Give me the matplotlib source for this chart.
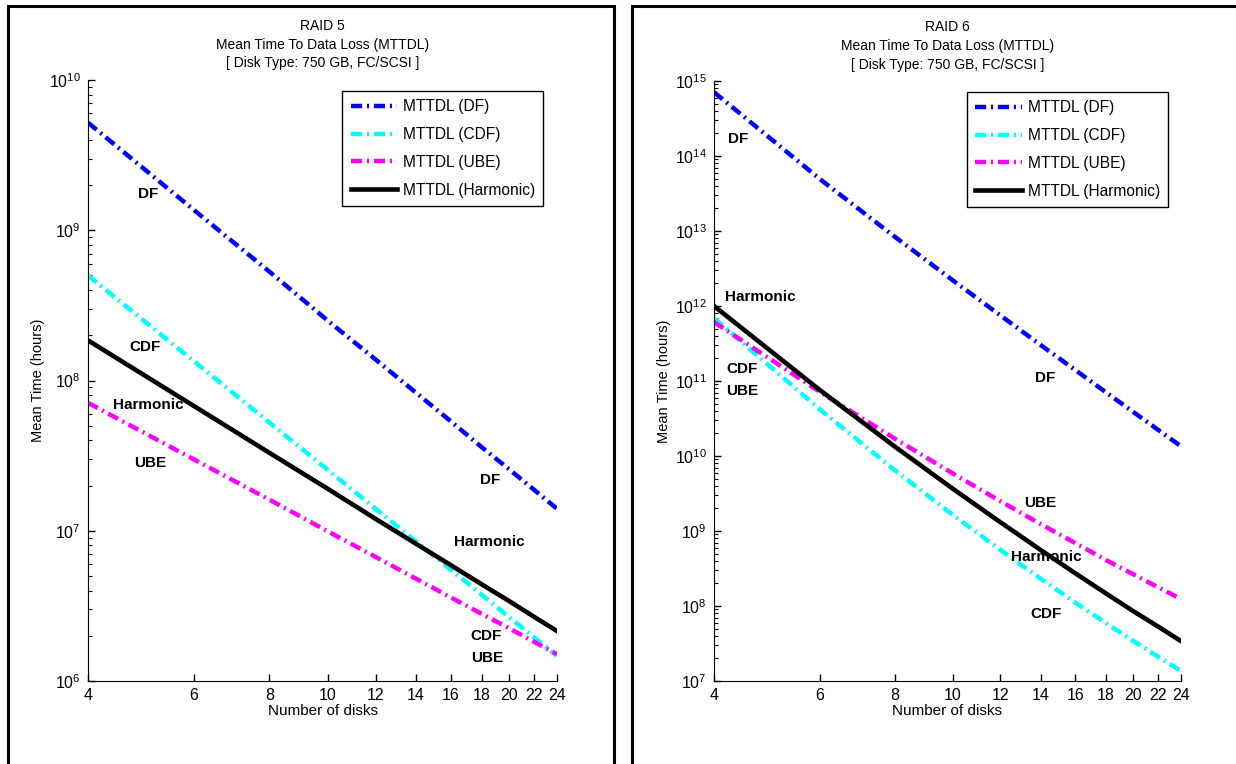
import matplotlib
matplotlib.use("Agg")
import matplotlib.pyplot as plt
from matplotlib.patches import Rectangle
from matplotlib.ticker import LogLocator, NullLocator, LogFormatterMathtext, NullFormatter

plt.rcParams['font.family'] = ['Liberation Sans', 'DejaVu Sans']
plt.rcParams['mathtext.fontset'] = 'custom'
plt.rcParams['mathtext.rm'] = 'Liberation Sans'
plt.rcParams['mathtext.it'] = 'Liberation Sans:italic'
plt.rcParams['mathtext.bf'] = 'Liberation Sans:bold'
plt.rcParams['lines.scale_dashes'] = False

disks = [4, 6, 8, 10, 12, 14, 16, 18, 20, 22, 24]

# RAID 5
r5_df = [5.2e9, 1.36e9, 5.3e8, 2.5e8, 1.38e8, 8.3e7, 5.35e7, 3.6e7, 2.56e7, 1.87e7, 1.4e7]
r5_cdf = [5.0e8, 1.34e8, 5.25e7, 2.54e7, 1.40e7, 8.5e6, 5.5e6, 3.75e6, 2.66e6, 1.95e6, 1.47e6]
r5_ube = [7.1e7, 2.98e7, 1.61e7, 9.9e6, 6.7e6, 4.8e6, 3.6e6, 2.8e6, 2.24e6, 1.82e6, 1.51e6]
r5_harm = [1.85e8, 6.75e7, 3.3e7, 1.9e7, 1.2e7, 8.2e6, 5.9e6, 4.4e6, 3.4e6, 2.67e6, 2.15e6]

# RAID 6
r6_df = [7.1e14, 4.95e13, 8.4e12, 2.2e12, 7.5e11, 3.03e11, 1.4e11, 7.05e10, 3.85e10, 2.22e10, 1.35e10]
r6_cdf = [6.9e11, 4.2e10, 6.5e9, 1.64e9, 5.6e8, 2.32e8, 1.11e8, 5.9e7, 3.41e7, 2.1e7, 1.36e7]
r6_ube = [6.1e11, 7.2e10, 1.71e10, 5.85e9, 2.5e9, 1.24e9, 6.9e8, 4.1e8, 2.64e8, 1.77e8, 1.24e8]
r6_harm = [1.0e12, 7.6e10, 1.34e10, 3.66e9, 1.31e9, 5.6e8, 2.73e8, 1.47e8, 8.5e7, 5.3e7, 3.4e7]

series_names = ['MTTDL (DF)', 'MTTDL (CDF)', 'MTTDL (UBE)', 'MTTDL (Harmonic)']
colors = ['#0000ff', '#00ffff', '#ff00ff', '#000000']

r5_labels = [('DF', 0.128, 0.810), ('CDF', 0.122, 0.556), ('Harmonic', 0.128, 0.459),
             ('UBE', 0.132, 0.363), ('DF', 0.857, 0.334), ('Harmonic', 0.855, 0.231),
             ('CDF', 0.849, 0.075), ('UBE', 0.851, 0.038)]
r6_labels = [('DF', 0.051, 0.903), ('Harmonic', 0.099, 0.640), ('CDF', 0.060, 0.520),
             ('UBE', 0.060, 0.483), ('DF', 0.709, 0.505), ('UBE', 0.698, 0.297),
             ('Harmonic', 0.711, 0.207), ('CDF', 0.711, 0.112)]

W, H = 1236, 764
fig = plt.figure(figsize=(W / 100, H / 100), dpi=100)

# panel frames (bottom runs past the picture edge)
fig.add_artist(Rectangle((8 / W, -0.1), (614 - 8) / W, 1.1 - 6 / H, transform=fig.transFigure,
                         fill=False, lw=2.2, ec='black'))
fig.add_artist(Rectangle((632 / W, -0.1), 0.6, 1.1 - 6 / H, transform=fig.transFigure,
                         fill=False, lw=2.2, ec='black'))


def draw_panel(rect, raid, data, ylim, labels):
    ax = fig.add_axes(rect)
    dd = (0, (8, 3.5, 1.5, 3.5))
    styles = [dd, dd, dd, '-']
    for vals, name, c, ls in zip(data, series_names, colors, styles):
        ax.plot(disks, vals, color=c, ls=ls, lw=3.2 if ls != '-' else 3.3, label=name)
    ax.set_xscale('log')
    ax.set_yscale('log')
    ax.set_xlim(4, 24)
    ax.set_ylim(*ylim)
    ax.set_xticks(disks, labels=[str(d) for d in disks])
    ax.xaxis.set_minor_locator(NullLocator())
    ax.yaxis.set_major_locator(LogLocator(base=10, numticks=30))
    ax.yaxis.set_major_formatter(LogFormatterMathtext())
    ax.yaxis.set_minor_locator(LogLocator(base=10, subs=range(2, 10), numticks=30))
    ax.yaxis.set_minor_formatter(NullFormatter())
    ax.tick_params(axis='both', which='major', direction='in', length=5, width=1,
                   labelsize=11.5, pad=5)
    ax.tick_params(axis='y', which='minor', direction='in', length=3, width=0.8)
    ax.spines['top'].set_visible(False)
    ax.spines['right'].set_visible(False)
    ax.set_xlabel('Number of disks', fontsize=11, labelpad=1)
    ax.set_ylabel('Mean Time (hours)', fontsize=10.5, labelpad=3)
    ax.set_title(raid + '\nMean Time To Data Loss (MTTDL)\n[ Disk Type: 750 GB, FC/SCSI ]',
                 fontsize=10, linespacing=1.45, pad=9)
    for t, x, y in labels:
        ax.text(x, y, t, transform=ax.transAxes, ha='center', va='center',
                fontsize=11, fontweight='bold')
    leg = ax.legend(loc='upper left', bbox_to_anchor=(0.5416, 0.982), fontsize=11.2,
                    frameon=True, fancybox=False, edgecolor='black', framealpha=1,
                    handlelength=3.0, handletextpad=0.35, labelspacing=0.82,
                    borderpad=0.55, borderaxespad=0)
    leg.get_frame().set_linewidth(1.0)
    return ax


draw_panel([88 / W, 83 / H, 469 / W, 601 / H], 'RAID 5',
           [r5_df, r5_cdf, r5_ube, r5_harm], (1e6, 1e10), r5_labels)
draw_panel([714 / W, 83 / H, 467 / W, 600 / H], 'RAID 6',
           [r6_df, r6_cdf, r6_ube, r6_harm], (1e7, 1e15), r6_labels)

fig.savefig('out.png', dpi=100)
